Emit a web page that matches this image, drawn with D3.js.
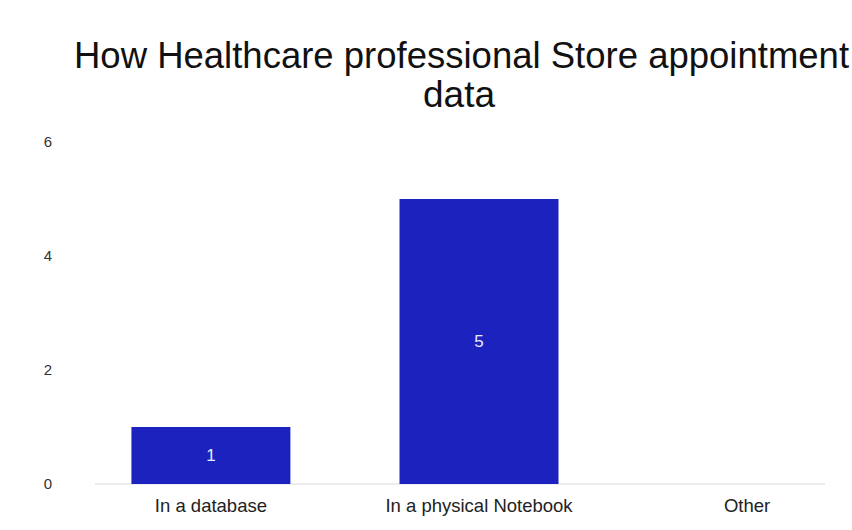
<!DOCTYPE html>
<html>
<head>
<meta charset="utf-8">
<script src="https://cdn.jsdelivr.net/npm/d3@7"></script>
<style>
  html, body { margin: 0; padding: 0; background: #fff; }
  svg { display: block; font-family: "Liberation Sans", Arial, sans-serif; }
</style>
</head>
<body>
<svg id="chart" width="852" height="530"></svg>
<script>
// Storage method counts
const categories = ["In a database", "In a physical Notebook", "Other"];
const counts = [1, 5, 0];
const yTicks = [0, 2, 4, 6];
const titleLines = ["How Healthcare professional Store appointment", "data"];

const svg = d3.select("#chart");

// Two-line title; the first line spans nearly the full width
const title = svg.append("g").attr("fill", "#111").attr("font-size", 36.5);
title.append("text")
  .attr("x", 74).attr("y", 68)
  .text(titleLines[0]);
title.append("text")
  .attr("x", 459).attr("y", 107)
  .attr("text-anchor", "middle")
  .attr("font-size", 37)
  .text(titleLines[1]);

const x = d3.scaleBand()
  .domain(categories)
  .range([77, 881])
  .paddingInner(0.407)
  .paddingOuter(0.203);

const y = d3.scaleLinear()
  .domain([0, 6])
  .range([484, 142]);

// Baseline
svg.append("line")
  .attr("x1", 95).attr("x2", 825)
  .attr("y1", y(0)).attr("y2", y(0))
  .attr("stroke", "#dcdcdc")
  .attr("stroke-width", 1);

// Y axis labels
const yAxis = d3.axisLeft(y).tickValues(yTicks).tickFormat(d3.format("d")).tickSize(0).tickPadding(0);
const gy = svg.append("g").attr("transform", "translate(52,0)").call(yAxis);
gy.select(".domain").remove();
gy.selectAll("text")
  .attr("font-size", 15)
  .attr("fill", "#333")
  .attr("font-family", "Liberation Sans, Arial, sans-serif");

// X axis labels
const xAxis = d3.axisBottom(x).tickSize(0).tickPadding(0);
const gx = svg.append("g").attr("transform", `translate(0,${y(0) + 15})`).call(xAxis);
gx.select(".domain").remove();
gx.selectAll("text")
  .attr("font-size", 18.5)
  .attr("fill", "#222")
  .attr("font-family", "Liberation Sans, Arial, sans-serif");

// Bars
const data = categories.map((c, i) => ({ c, v: counts[i] }));
svg.append("g").selectAll("rect")
  .data(data.filter(d => d.v > 0))
  .join("rect")
  .attr("x", d => x(d.c))
  .attr("width", x.bandwidth())
  .attr("y", d => y(d.v))
  .attr("height", d => y(0) - y(d.v))
  .attr("fill", "#1b22bd");

// Value labels inside bars
svg.append("g").selectAll("text")
  .data(data.filter(d => d.v > 0))
  .join("text")
  .attr("x", d => x(d.c) + x.bandwidth() / 2)
  .attr("y", d => (y(d.v) + y(0)) / 2)
  .attr("dy", "0.35em")
  .attr("text-anchor", "middle")
  .attr("font-size", 17)
  .attr("fill", "#e8ecff")
  .text(d => d.v);
</script>
</body>
</html>
